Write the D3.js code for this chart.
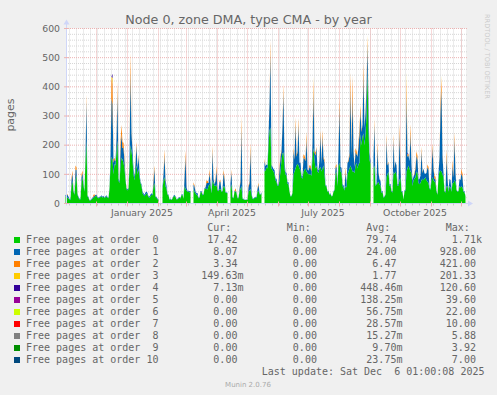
<!DOCTYPE html>
<html>
<head>
<meta charset="utf-8">
<script src="https://cdn.jsdelivr.net/npm/d3@7"></script>
<style>
  html, body { margin: 0; padding: 0; background: #f0f0f0; }
  svg { display: block; }
  text { fill: #666; }
</style>
</head>
<body>
<svg id="chart" width="497" height="395"></svg>
<script>
// one value per day, Nov 1 2024 .. Dec 6 2025 (null = no data)
const startDay = new Date(2024, 10, 1);
const endDay = new Date(2025, 11, 6);

const order0 = [
  25, 22, 20, 18, 12, 14, 60, 78, 40, 30,
  80, 96, 30, 20, 14, 15, 70, 90, 60, 40,
  150, 215, 25, 20, 10, 10, 14, 16, 20, 22,
  25, 27, 20, 18, 20, 22, 25, 20, 24, 18,
  22, 25, 20, 18, 50, 130, 160, 150, 100, 136,
  130, 180, 216, 78, 70, 130, 158, 150, 140, 120,
  80, 50, 45, 50, 120, 200, 180, 150, 100, 80,
  110, 130, 100, 120, 90, 70, 60, 35, 30, 25,
  30, 35, 30, 22, 20, 25, 30, 28, 60, 70,
  22, 20, 15, 12, null, null, null, 50, 80, 90,
  60, 50, 30, 28, 13, 15, 12, 16, 24, 26,
  22, 14, 15, 18, 20, 17, 28, 30, 16, 60,
  50, 45, 40, 42, 38, 40, null, null, 50, 40,
  35, 30, 28, 18, 20, 38, 40, 28, 30, 50,
  52, 50, 48, 60, 65, 60, 35, 80, 70, 60,
  60, 65, 45, 42, 50, 50, 40, 42, 60, 58,
  38, 36, 35, null, null, 50, 67, 20, 18, 40,
  42, 35, 18, 18, 40, 50, 60, 16, 15, 12,
  12, 13, 12, 40, 45, 50, 30, 16, 15, 20,
  21, 20, 40, 45, 32, 30, 35, null, null, 110,
  113, 124, 120, 200, 250, 260, 120, 115, 110, 100,
  80, 75, 60, 62, 80, 110, 150, 172, 175, 120,
  100, 95, 68, 65, 40, 24, 25, 35, 100, 110,
  120, 130, 136, 130, 120, 115, 90, 85, 110, 115,
  120, 110, 105, 100, 100, 100, 95, 160, 190, 150,
  120, 130, 110, 105, 120, 125, 110, 120, 130, 100,
  60, 58, 40, 42, 30, 33, 24, 26, 40, 45,
  100, 110, 60, 130, 140, 110, 105, 60, 55, 45,
  60, 55, 100, 110, 120, 130, 120, 110, 110, 105,
  130, 140, 120, 135, 140, 238, 200, 230, 240, 200,
  240, 300, 460, 250, 150, 135, null, null, 120, 130,
  60, 65, 70, 75, 65, 62, 35, 40, 20, 22,
  30, 90, 100, 110, 60, 62, 40, 38, 110, 100,
  110, 100, 60, 62, 80, 90, 40, 38, 14, 40,
  45, 110, 120, 130, 120, 110, 105, 60, 80, 85,
  90, 110, 105, 70, 66, 70, 80, 85, 80, 85,
  90, 80, 75, 70, 50, 48, 80, 90, 80, 75,
  70, 40, 30, 90, 112, 112, 110, 100, 90, 40,
  38, 60, 60, 40, 60, 55, 40, 70, 70, 80,
  75, 45, 40, 42, 60, 55, 60, 55, 40, 38,
  25
];

const order1 = [
  5, 6, 10, 5, 3, 4, 20, 25, 5, 3,
  35, 20, 4, 3, 2, 2, 20, 15, 8, 4,
  20, 135, 3, 2, 2, 2, 2, 3, 4, 5,
  4, 3, 2, 2, 3, 2, 3, 3, 3, 2,
  3, 3, 2, 2, 6, 30, 200, 190, 40, 15,
  15, 40, 160, 8, 6, 50, 80, 40, 50, 25,
  6, 3, 3, 4, 30, 250, 60, 30, 20, 10,
  25, 70, 20, 40, 15, 5, 6, 6, 5, 5,
  8, 6, 6, 3, 4, 6, 5, 4, 15, 50,
  3, 3, 2, 2, 0, 0, 0, 6, 20, 75,
  20, 10, 2, 3, 2, 2, 1, 2, 3, 3,
  3, 1, 1, 2, 2, 2, 3, 3, 1, 25,
  110, 10, 3, 2, 4, 3, 0, 0, 15, 18,
  6, 5, 8, 2, 2, 4, 3, 4, 2, 3,
  3, 20, 22, 10, 40, 10, 3, 100, 15, 5,
  18, 50, 3, 2, 25, 25, 2, 2, 45, 25,
  2, 2, 2, 0, 0, 20, 40, 2, 2, 3,
  2, 3, 2, 2, 10, 25, 200, 2, 1, 1,
  1, 1, 1, 15, 25, 130, 10, 2, 2, 1,
  2, 2, 10, 20, 3, 2, 4, 0, 0, 35,
  15, 10, 12, 30, 90, 255, 12, 10, 8, 15,
  6, 10, 4, 3, 35, 45, 30, 90, 205, 25,
  8, 10, 6, 8, 2, 2, 2, 3, 80, 40,
  150, 30, 40, 140, 20, 25, 6, 8, 45, 40,
  25, 110, 12, 12, 25, 22, 15, 45, 190, 25,
  45, 60, 8, 8, 30, 110, 25, 110, 25, 40,
  4, 3, 2, 2, 2, 2, 2, 1, 2, 3,
  20, 18, 5, 45, 190, 15, 18, 6, 8, 3,
  50, 10, 40, 35, 45, 260, 45, 260, 70, 20,
  45, 30, 40, 60, 100, 80, 45, 40, 200, 60,
  70, 90, 85, 80, 25, 12, 0, 0, 40, 140,
  4, 3, 120, 30, 18, 15, 5, 4, 2, 2,
  2, 130, 30, 30, 5, 6, 3, 4, 110, 20,
  35, 30, 5, 6, 160, 30, 3, 4, 1, 5,
  4, 260, 40, 35, 25, 130, 25, 18, 12, 15,
  30, 55, 45, 12, 18, 25, 100, 20, 40, 18,
  12, 25, 50, 45, 4, 3, 30, 100, 40, 10,
  12, 5, 2, 15, 45, 200, 280, 60, 15, 2,
  4, 100, 25, 2, 25, 25, 2, 60, 20, 140,
  30, 3, 2, 2, 25, 25, 45, 35, 3, 4,
  1
];

const order2 = [
  0, 0, 3, 0, 0, 0, 8, 10, 0, 0,
  15, 8, 0, 0, 0, 0, 10, 8, 0, 0,
  5, 25, 0, 0, 0, 0, 0, 0, 6, 4,
  0, 0, 0, 0, 0, 0, 0, 0, 0, 0,
  0, 0, 0, 0, 0, 5, 70, 70, 10, 6,
  0, 8, 40, 0, 0, 30, 32, 20, 18, 10,
  0, 0, 0, 0, 5, 68, 10, 0, 0, 0,
  10, 12, 0, 8, 0, 0, 0, 0, 0, 0,
  0, 0, 0, 0, 0, 0, 0, 0, 12, 10,
  0, 0, 0, 0, 0, 0, 0, 0, 5, 19,
  5, 0, 0, 0, 0, 0, 0, 0, 0, 0,
  0, 0, 0, 0, 0, 0, 0, 0, 0, 8,
  22, 0, 0, 0, 0, 0, 0, 0, 8, 5,
  0, 0, 0, 0, 0, 0, 0, 0, 0, 0,
  0, 9, 8, 0, 12, 4, 0, 18, 5, 0,
  6, 14, 0, 0, 4, 4, 0, 0, 10, 8,
  0, 0, 0, 0, 0, 0, 10, 0, 0, 0,
  8, 0, 0, 0, 3, 6, 40, 0, 0, 0,
  0, 0, 0, 5, 6, 26, 0, 0, 0, 0,
  0, 0, 3, 6, 0, 0, 0, 0, 0, 9,
  0, 0, 0, 5, 10, 45, 0, 0, 0, 0,
  0, 0, 0, 0, 10, 10, 5, 10, 30, 0,
  0, 0, 0, 0, 0, 0, 0, 0, 10, 4,
  25, 8, 5, 23, 0, 0, 0, 0, 14, 10,
  5, 26, 0, 0, 6, 8, 4, 8, 45, 4,
  10, 5, 0, 0, 4, 15, 0, 22, 5, 10,
  0, 0, 0, 0, 0, 0, 0, 0, 0, 0,
  6, 8, 0, 8, 35, 0, 0, 0, 0, 0,
  15, 0, 0, 5, 8, 60, 8, 70, 10, 0,
  15, 10, 0, 15, 20, 20, 8, 0, 40, 0,
  10, 15, 25, 20, 0, 0, 0, 0, 5, 20,
  0, 0, 20, 5, 0, 0, 0, 0, 0, 0,
  0, 20, 4, 3, 0, 0, 0, 0, 18, 4,
  0, 0, 0, 0, 33, 5, 0, 0, 0, 0,
  0, 60, 10, 4, 0, 33, 5, 0, 0, 6,
  8, 14, 12, 0, 0, 0, 15, 4, 0, 0,
  0, 0, 9, 10, 0, 0, 5, 15, 8, 10,
  10, 0, 0, 0, 8, 30, 40, 10, 0, 0,
  0, 24, 6, 0, 0, 0, 0, 19, 5, 24,
  5, 0, 0, 0, 0, 0, 14, 10, 0, 0,
  0
];

// sparse series: [day index, value]
const order3Points = [[46, 5], [47, 20], [248, 10], [302, 8], [341, 20], [376, 8]];
const order4Points = [[47, 15], [342, 5]];
const order5Points = [];
const order6Points = [];
const order7Points = [];
const order8Points = [];
const order9Points = [];
const order10Points = [];

const seriesColors = ['#00CC00', '#0066B3', '#FF8000', '#FFCC00', '#330099', '#990099',
  '#CCFF00', '#FF0000', '#808080', '#008F00', '#00487D'];

// legend stats
const curVals = [17.42, 8.07, 3.34, 0.14963, 0.00713, 0, 0, 0, 0, 0, 0];
const minVals = [0, 0, 0, 0, 0, 0, 0, 0, 0, 0, 0];
const avgVals = [79.74, 24.00, 6.47, 1.77, 0.44846, 0.13825, 0.05675, 0.02857, 0.01527, 0.00970, 0.02375];
const maxVals = [1710, 928, 421, 201.33, 120.60, 39.60, 22.00, 10.00, 5.88, 3.92, 7.00];

const yTicks = [0, 100, 200, 300, 400, 500, 600];
const xLabelMonths = [new Date(2025, 0, 1), new Date(2025, 3, 1), new Date(2025, 6, 1), new Date(2025, 9, 1)];

const title = 'Node 0, zone DMA, type CMA - by year';
const lastUpdate = 'Last update: Sat Dec  6 01:00:08 2025';

const svg = d3.select('#chart');
const plotL = 66, plotR = 466, plotT = 28.5, plotB = 203.5;

const days = d3.timeDay.range(startDay, d3.timeDay.offset(endDay, 1));
const x = d3.scaleTime().domain([startDay, endDay]).range([65.5, 465.5]);
const y = d3.scaleLinear().domain([0, 600]).range([plotB, plotT]);

// keep runs of spaces in monospace text
const pre = s => s.replace(/ /g, '\u00a0');

function fromPoints(pts) {
  const arr = days.map(() => 0);
  pts.forEach(([i, v]) => { arr[i] = v; });
  return arr;
}

const series = [order0, order1, order2,
  fromPoints(order3Points), fromPoints(order4Points), fromPoints(order5Points),
  fromPoints(order6Points), fromPoints(order7Points), fromPoints(order8Points),
  fromPoints(order9Points), fromPoints(order10Points)];
const keys = series.map((s, i) => 'o' + i);

const rows = days.map((d, i) => {
  const r = {date: d, gap: order0[i] == null};
  series.forEach((s, k) => { r[keys[k]] = s[i] || 0; });
  return r;
});

const stacked = d3.stack().keys(keys)(rows);

// canvas
svg.append('rect')
  .attr('x', plotL).attr('y', plotT)
  .attr('width', plotR - plotL).attr('height', plotB - plotT)
  .attr('fill', '#fff');

// grid
const minorColor = '#d6d6d6', majorColor = '#ecb2b2';
const gGrid = svg.append('g').attr('class', 'grid');
const minorY = d3.range(20, 601, 20).filter(v => v % 100 !== 0);
const weeks = d3.timeMonday.range(startDay, endDay);
const months = d3.timeMonth.range(d3.timeDay.offset(startDay, 1), endDay);

gGrid.selectAll('.hminor').data(minorY).enter().append('line')
  .attr('x1', plotL).attr('x2', plotR + 2)
  .attr('y1', d => y(d)).attr('y2', d => y(d))
  .attr('stroke', minorColor).attr('stroke-dasharray', '1,1');
gGrid.selectAll('.vminor').data(weeks).enter().append('line')
  .attr('x1', d => Math.round(x(d)) + 0.5).attr('x2', d => Math.round(x(d)) + 0.5)
  .attr('y1', plotT).attr('y2', plotB)
  .attr('stroke', minorColor).attr('stroke-dasharray', '1,1');
gGrid.selectAll('.hmajor').data(yTicks).enter().append('line')
  .attr('x1', plotL).attr('x2', plotR + 2)
  .attr('y1', d => y(d)).attr('y2', d => y(d))
  .attr('stroke', majorColor).attr('stroke-dasharray', '1,1');
gGrid.selectAll('.vmajor').data(months).enter().append('line')
  .attr('x1', d => Math.round(x(d)) + 0.5).attr('x2', d => Math.round(x(d)) + 0.5)
  .attr('y1', plotT).attr('y2', plotB)
  .attr('stroke', majorColor).attr('stroke-dasharray', '1,1');

// stacked areas
const area = d3.area()
  .defined(d => !d.data.gap)
  .x(d => x(d.data.date))
  .y0(d => y(d[0]))
  .y1(d => y(d[1]));

svg.append('g').selectAll('path').data(stacked).enter().append('path')
  .attr('d', area)
  .attr('fill', (d, i) => seriesColors[i]);

// axes
const axisColor = '#CFD6F8';
svg.append('line').attr('x1', plotL - 2).attr('x2', plotR + 4)
  .attr('y1', plotB).attr('y2', plotB).attr('stroke', axisColor);
svg.append('line').attr('x1', plotL + 0.5).attr('x2', plotL + 0.5)
  .attr('y1', plotB + 2).attr('y2', plotT - 5).attr('stroke', axisColor);
svg.append('path').attr('d', `M${plotR + 2},${plotB - 3} L${plotR + 7},${plotB} L${plotR + 2},${plotB + 3} Z`)
  .attr('fill', axisColor);
svg.append('path').attr('d', `M${plotL - 2.5},${plotT - 4} L${plotL + 0.5},${plotT - 9} L${plotL + 3.5},${plotT - 4} Z`)
  .attr('fill', axisColor);

// axis ticks
svg.selectAll('.xtick-minor').data(weeks).enter().append('line')
  .attr('x1', d => Math.round(x(d)) + 0.5).attr('x2', d => Math.round(x(d)) + 0.5)
  .attr('y1', plotB).attr('y2', plotB + 2).attr('stroke', '#c8c8c8');
svg.selectAll('.xtick-major').data(months).enter().append('line')
  .attr('x1', d => Math.round(x(d)) + 0.5).attr('x2', d => Math.round(x(d)) + 0.5)
  .attr('y1', plotB - 2).attr('y2', plotB + 3).attr('stroke', majorColor);
svg.selectAll('.ytick').data(yTicks).enter().append('line')
  .attr('x1', plotL - 2).attr('x2', plotL + 3)
  .attr('y1', d => y(d)).attr('y2', d => y(d)).attr('stroke', majorColor);

// y labels
svg.selectAll('.ylab').data(yTicks).enter().append('text')
  .attr('x', 60).attr('y', d => y(d) + 3.3)
  .attr('text-anchor', 'end')
  .style('font', '9.3px "DejaVu Sans"')
  .text(d => d);

// x labels
const fmtMonth = d3.timeFormat('%B %Y');
svg.selectAll('.xlab').data(xLabelMonths).enter().append('text')
  .attr('x', d => x(d3.timeDay.offset(d, 15)) + 0.5).attr('y', 216)
  .attr('text-anchor', 'middle')
  .style('font', '9.3px "DejaVu Sans"')
  .text(d => fmtMonth(d));

// title and side texts
svg.append('text').attr('x', 248.5).attr('y', 24)
  .attr('text-anchor', 'middle')
  .style('font', '12.7px "DejaVu Sans"')
  .text(title);

svg.append('text')
  .attr('transform', 'translate(13.5,115) rotate(-90)')
  .attr('text-anchor', 'middle')
  .style('font', '11px "DejaVu Sans"')
  .text('pages');

svg.append('text')
  .attr('transform', 'translate(485,14) rotate(90)')
  .style('font', '6.6px "DejaVu Sans"')
  .style('fill', '#cccccc')
  .text('RRDTOOL / TOBI OETIKER');

// legend
function fmtVal(v) {
  if (v === 0) return '  0.00 ';
  const e = Math.floor(Math.log10(Math.abs(v)) / 3);
  const suffix = {'-1': 'm', '0': ' ', '1': 'k'}[e];
  return (v / Math.pow(1000, e)).toFixed(2).padStart(6) + suffix;
}

const colX = [201.3, 280.8, 360.3, 439.8];
const gLegend = svg.append('g')
  .style('font', '10px "DejaVu Sans Mono"');

['Cur:', 'Min:', 'Avg:', 'Max:'].forEach((h, i) => {
  gLegend.append('text').attr('x', colX[i] + 6.02).attr('y', 231).text(h);
});

const legendRows = gLegend.selectAll('.lrow').data(series).enter().append('g')
  .attr('transform', (d, i) => `translate(0,${243 + i * 12})`);

legendRows.append('rect')
  .attr('x', 14).attr('y', -6).attr('width', 6).attr('height', 6)
  .attr('fill', (d, i) => seriesColors[i]);
legendRows.append('text').attr('x', 26).attr('y', 0)
  .text((d, i) => pre('Free pages at order ' + String(i).padStart(2)));
[curVals, minVals, avgVals, maxVals].forEach((vals, c) => {
  legendRows.append('text').attr('x', colX[c]).attr('y', 0)
    .text((d, i) => pre(fmtVal(vals[i])));
});

gLegend.append('text').attr('x', 484.5).attr('y', 375)
  .attr('text-anchor', 'end')
  .text(pre(lastUpdate));

svg.append('text').attr('x', 248).attr('y', 387)
  .attr('text-anchor', 'middle')
  .style('font', '7px "DejaVu Sans"')
  .style('fill', '#aaaaaa')
  .text('Munin 2.0.76');
</script>
</body>
</html>
